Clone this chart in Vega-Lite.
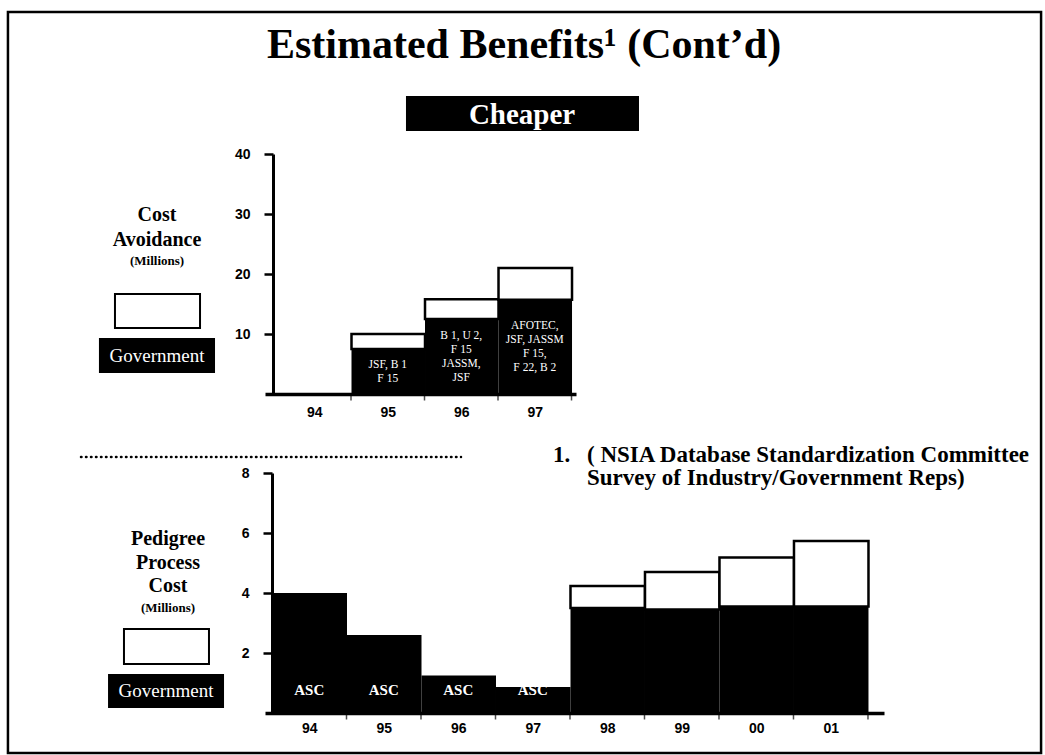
{
  "$schema": "https://vega.github.io/schema/vega-lite/v6.json",
  "background": "white",
  "padding": {"left": 6, "top": 10, "right": 4, "bottom": 2},
  "bounds": "flush",
  "spacing": 79,
  "config": {
    "view": {"stroke": null},
    "axis": {
      "domainColor": "black", "tickColor": "black", "labelColor": "black",
      "labelFont": "Liberation Sans", "labelFontWeight": "bold", "labelFontSize": 14,
      "grid": false, "title": null
    }
  },
  "vconcat": [
    {
      "width": 311,
      "height": 240,
      "data": {"values": [
        {"year": 1994, "government": 0, "total": 0, "programs": null},
        {"year": 1995, "government": 7.5, "total": 10, "programs": ["", "JSF, B 1", "F 15", ""]},
        {"year": 1996, "government": 12.5, "total": 15.8, "programs": ["B 1, U 2,", "F 15", "JASSM,", "JSF"]},
        {"year": 1997, "government": 15.7, "total": 21, "programs": ["AFOTEC,", "JSF, JASSM", "F 15,", "F 22, B 2"]}
      ]},
      "layer": [
        {
          "mark": {"type": "bar", "color": "black", "binSpacing": 0},
          "encoding": {
            "x": {"field": "year", "type": "quantitative", "bin": {"step": 1, "extent": [1994, 1998]},
                  "scale": {"domain": [1993.83, 1998.061], "nice": false, "zero": false},
                  "axis": {"values": [1994.5, 1995.5, 1996.5, 1997.5], "labelExpr": "substring(toString(floor(datum.value)), 2)",
                           "ticks": false, "labelPadding": 11, "domainWidth": 3.5, "labelAngle": 0, "labelFlush": false, "labelOverlap": false}},
            "y": {"field": "government", "type": "quantitative",
                  "scale": {"domain": [0, 40], "nice": false},
                  "axis": {"values": [10, 20, 30, 40], "offset": -8, "tickSize": 9, "tickWidth": 2.5, "labelPadding": 14, "domainWidth": 3}}
          }
        },
        {
          "transform": [{"filter": "datum.total > datum.government"}],
          "mark": {"type": "bar", "fill": "white", "stroke": "black", "strokeWidth": 2.5, "binSpacing": 0},
          "encoding": {
            "x": {"field": "year", "type": "quantitative", "bin": {"step": 1, "extent": [1994, 1998]}},
            "y": {"field": "total", "type": "quantitative"},
            "y2": {"field": "government"}
          }
        },
        {
          "mark": {"type": "tick", "orient": "vertical", "color": "black", "size": 7, "thickness": 1.5},
          "encoding": {
            "x": {"field": "year", "type": "quantitative", "bin": {"step": 1, "extent": [1994, 1998]}, "bandPosition": 1},
            "y": {"datum": -0.5, "type": "quantitative"}
          }
        },
        {
          "transform": [{"filter": "datum.programs != null"}],
          "mark": {"type": "text", "color": "white", "font": "Liberation Serif", "fontSize": 11.5, "lineHeight": 14, "baseline": "middle", "dy": -21},
          "encoding": {
            "x": {"field": "year", "type": "quantitative", "bin": {"step": 1, "extent": [1994, 1998]}},
            "y": {"field": "government", "type": "quantitative", "stack": "zero", "bandPosition": 0.5},
            "text": {"field": "programs"}
          }
        },
        {
          "data": {"values": [{}]},
          "mark": {"type": "rect", "fill": null, "stroke": "black", "strokeWidth": 2.5},
          "encoding": {
            "x": {"datum": 1990.333, "type": "quantitative"}, "x2": {"datum": 2004.388},
            "y": {"datum": 63.67, "type": "quantitative"}, "y2": {"datum": -59.83}
          }
        },
        {
          "data": {"values": [{}]},
          "mark": {"type": "text", "text": "Estimated Benefits¹ (Cont’d)", "font": "Liberation Serif", "fontWeight": "bold", "fontSize": 42, "align": "center", "baseline": "alphabetic", "color": "black"},
          "encoding": {"x": {"datum": 1997.354, "type": "quantitative"}, "y": {"datum": 56.0, "type": "quantitative"}}
        },
        {
          "data": {"values": [{}]},
          "mark": {"type": "rect", "fill": "black"},
          "encoding": {
            "x": {"datum": 1995.748, "type": "quantitative"}, "x2": {"datum": 1998.918},
            "y": {"datum": 49.67, "type": "quantitative"}, "y2": {"datum": 43.83}
          }
        },
        {
          "data": {"values": [{}]},
          "mark": {"type": "text", "text": "Cheaper", "font": "Liberation Serif", "fontWeight": "bold", "fontSize": 29, "align": "center", "baseline": "alphabetic", "color": "white"},
          "encoding": {"x": {"datum": 1997.327, "type": "quantitative"}, "y": {"datum": 45.0, "type": "quantitative"}}
        },
        {
          "data": {"values": [{}]},
          "mark": {"type": "text", "text": ["Cost", "Avoidance"], "lineHeight": 25, "font": "Liberation Serif", "fontWeight": "bold", "fontSize": 20, "align": "center", "baseline": "alphabetic", "color": "black"},
          "encoding": {"x": {"datum": 1992.361, "type": "quantitative"}, "y": {"datum": 28.83, "type": "quantitative"}}
        },
        {
          "data": {"values": [{}]},
          "mark": {"type": "text", "text": "(Millions)", "font": "Liberation Serif", "fontWeight": "bold", "fontSize": 13, "align": "center", "baseline": "alphabetic", "color": "black"},
          "encoding": {"x": {"datum": 1992.361, "type": "quantitative"}, "y": {"datum": 21.5, "type": "quantitative"}}
        },
        {
          "data": {"values": [{}]},
          "mark": {"type": "rect", "fill": "white", "stroke": "black", "strokeWidth": 2},
          "encoding": {
            "x": {"datum": 1991.789, "type": "quantitative"}, "x2": {"datum": 1992.946},
            "y": {"datum": 16.67, "type": "quantitative"}, "y2": {"datum": 11.0}
          }
        },
        {
          "data": {"values": [{}]},
          "mark": {"type": "rect", "fill": "black"},
          "encoding": {
            "x": {"datum": 1991.571, "type": "quantitative"}, "x2": {"datum": 1993.150},
            "y": {"datum": 9.33, "type": "quantitative"}, "y2": {"datum": 3.5}
          }
        },
        {
          "data": {"values": [{}]},
          "mark": {"type": "text", "text": "Government", "font": "Liberation Serif", "fontSize": 19, "align": "center", "baseline": "middle", "color": "white"},
          "encoding": {"x": {"datum": 1992.361, "type": "quantitative"}, "y": {"datum": 6.33, "type": "quantitative"}}
        }
      ]
    },
    {
      "width": 619,
      "height": 240,
      "data": {"values": [
        {"year": 1994, "government": 4, "total": 4, "agency": "ASC"},
        {"year": 1995, "government": 2.6, "total": 2.6, "agency": "ASC"},
        {"year": 1996, "government": 1.25, "total": 1.25, "agency": "ASC"},
        {"year": 1997, "government": 0.87, "total": 0.87, "agency": "ASC"},
        {"year": 1998, "government": 3.5, "total": 4.23, "agency": null},
        {"year": 1999, "government": 3.45, "total": 4.7, "agency": null},
        {"year": 2000, "government": 3.55, "total": 5.18, "agency": null},
        {"year": 2001, "government": 3.55, "total": 5.73, "agency": null}
      ]},
      "layer": [
        {
          "mark": {"type": "bar", "color": "black", "binSpacing": 0},
          "encoding": {
            "x": {"field": "year", "type": "quantitative", "bin": {"step": 1, "extent": [1994, 2002]},
                  "scale": {"domain": [1993.906, 2002.215], "nice": false, "zero": false},
                  "axis": {"values": [1994.5, 1995.5, 1996.5, 1997.5, 1998.5, 1999.5, 2000.5, 2001.5], "labelExpr": "substring(toString(floor(datum.value)), 2)",
                           "ticks": false, "labelPadding": 8, "domainWidth": 3.5, "labelAngle": 0, "labelFlush": false, "labelOverlap": false}},
            "y": {"field": "government", "type": "quantitative",
                  "scale": {"domain": [0, 8], "nice": false},
                  "axis": {"values": [2, 4, 6, 8], "offset": -7, "tickSize": 9, "tickWidth": 2.5, "labelPadding": 14, "domainWidth": 3}}
          }
        },
        {
          "transform": [{"filter": "datum.total > datum.government"}],
          "mark": {"type": "bar", "fill": "white", "stroke": "black", "strokeWidth": 2.5, "binSpacing": 0},
          "encoding": {
            "x": {"field": "year", "type": "quantitative", "bin": {"step": 1, "extent": [1994, 2002]}},
            "y": {"field": "total", "type": "quantitative"},
            "y2": {"field": "government"}
          }
        },
        {
          "mark": {"type": "tick", "orient": "vertical", "color": "black", "size": 7, "thickness": 1.5},
          "encoding": {
            "x": {"field": "year", "type": "quantitative", "bin": {"step": 1, "extent": [1994, 2002]}, "bandPosition": 1},
            "y": {"datum": -0.1, "type": "quantitative"}
          }
        },
        {
          "transform": [{"filter": "datum.agency != null"}],
          "mark": {"type": "text", "color": "white", "font": "Liberation Serif", "fontWeight": "bold", "fontSize": 15, "baseline": "middle"},
          "encoding": {
            "x": {"field": "year", "type": "quantitative", "bin": {"step": 1, "extent": [1994, 2002]}},
            "y": {"datum": 0.77, "type": "quantitative"},
            "text": {"field": "agency"}
          }
        },
        {
          "data": {"values": [{}]},
          "mark": {"type": "rule", "color": "black", "strokeWidth": 2.5, "strokeDash": [0.5, 4.5], "strokeCap": "round"},
          "encoding": {
            "x": {"datum": 1991.436, "type": "quantitative"}, "x2": {"datum": 1996.537},
            "y": {"datum": 8.53, "type": "quantitative"}
          }
        },
        {
          "data": {"values": [{}]},
          "mark": {"type": "text", "text": "1.", "font": "Liberation Serif", "fontWeight": "bold", "fontSize": 23, "align": "left", "baseline": "alphabetic", "color": "black"},
          "encoding": {"x": {"datum": 1997.772, "type": "quantitative"}, "y": {"datum": 8.37, "type": "quantitative"}}
        },
        {
          "data": {"values": [{}]},
          "mark": {"type": "text", "text": ["( NSIA Database Standardization Committee", "Survey of Industry/Government Reps)"], "lineHeight": 23, "font": "Liberation Serif", "fontWeight": "bold", "fontSize": 23, "align": "left", "baseline": "alphabetic", "color": "black"},
          "encoding": {"x": {"datum": 1998.228, "type": "quantitative"}, "y": {"datum": 8.37, "type": "quantitative"}}
        },
        {
          "data": {"values": [{}]},
          "mark": {"type": "text", "text": ["Pedigree", "Process", "Cost"], "lineHeight": 23.5, "font": "Liberation Serif", "fontWeight": "bold", "fontSize": 20, "align": "center", "baseline": "alphabetic", "color": "black"},
          "encoding": {"x": {"datum": 1992.604, "type": "quantitative"}, "y": {"datum": 5.6, "type": "quantitative"}}
        },
        {
          "data": {"values": [{}]},
          "mark": {"type": "text", "text": "(Millions)", "font": "Liberation Serif", "fontWeight": "bold", "fontSize": 13, "align": "center", "baseline": "alphabetic", "color": "black"},
          "encoding": {"x": {"datum": 1992.604, "type": "quantitative"}, "y": {"datum": 3.37, "type": "quantitative"}}
        },
        {
          "data": {"values": [{}]},
          "mark": {"type": "rect", "fill": "white", "stroke": "black", "strokeWidth": 2},
          "encoding": {
            "x": {"datum": 1992.013, "type": "quantitative"}, "x2": {"datum": 1993.154},
            "y": {"datum": 2.8, "type": "quantitative"}, "y2": {"datum": 1.633}
          }
        },
        {
          "data": {"values": [{}]},
          "mark": {"type": "rect", "fill": "black"},
          "encoding": {
            "x": {"datum": 1991.799, "type": "quantitative"}, "x2": {"datum": 1993.356},
            "y": {"datum": 1.3, "type": "quantitative"}, "y2": {"datum": 0.167}
          }
        },
        {
          "data": {"values": [{}]},
          "mark": {"type": "text", "text": "Government", "font": "Liberation Serif", "fontSize": 19, "align": "center", "baseline": "middle", "color": "white"},
          "encoding": {"x": {"datum": 1992.577, "type": "quantitative"}, "y": {"datum": 0.733, "type": "quantitative"}}
        }
      ]
    }
  ]
}
